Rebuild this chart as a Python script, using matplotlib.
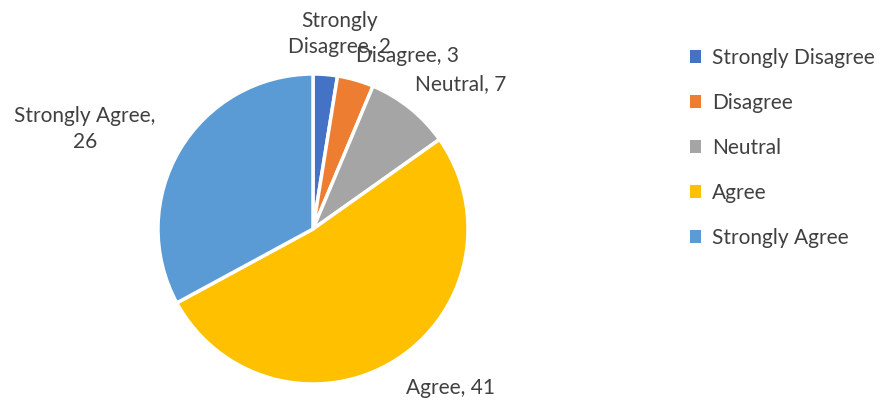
import matplotlib
matplotlib.use("Agg")
import matplotlib.pyplot as plt
from matplotlib.patches import Patch

categories = ["Strongly Disagree", "Disagree", "Neutral", "Agree", "Strongly Agree"]
values = [2, 3, 7, 41, 26]
colors = ["#4472C4", "#ED7D31", "#A5A5A5", "#FFC000", "#5B9BD5"]
label_texts = ["Strongly\nDisagree, 2", "Disagree, 3", "Neutral, 7", "Agree, 41", "Strongly Agree,\n26"]

plt.rcParams['font.family'] = ['Lato', 'DejaVu Sans']
W, H = 885, 403
fig = plt.figure(figsize=(W/100, H/100), dpi=100)
ax = fig.add_axes([0, 0, 1, 1])

cx, cy, r = 313, H - 229, 155
wedges, _ = ax.pie(values, colors=colors, startangle=90, counterclock=False,
                   center=(cx, cy), radius=r, frame=True,
                   wedgeprops=dict(edgecolor='white', linewidth=2.5))
ax.set_xlim(0, W)
ax.set_ylim(0, H)
ax.set_aspect('equal')
ax.axis('off')

label_pos = [(340, 34), (408, 56), (461, 84), (450, 388), (85, 129)]
for t, (x, y) in zip(label_texts, label_pos):
    ax.text(x, H - y, t, ha='center', va='center', fontsize=15, color='#404040',
            linespacing=1.35)

handles = [Patch(facecolor=c, edgecolor='none') for c in colors]
leg = fig.legend(handles, categories, loc='upper left', bbox_to_anchor=(671/W, 1 - 29/H),
                 frameon=False, fontsize=15, labelcolor='#404040',
                 handlelength=0.55, handleheight=0.55, handletextpad=0.5,
                 labelspacing=1.2)

fig.savefig("out.png", dpi=100)
